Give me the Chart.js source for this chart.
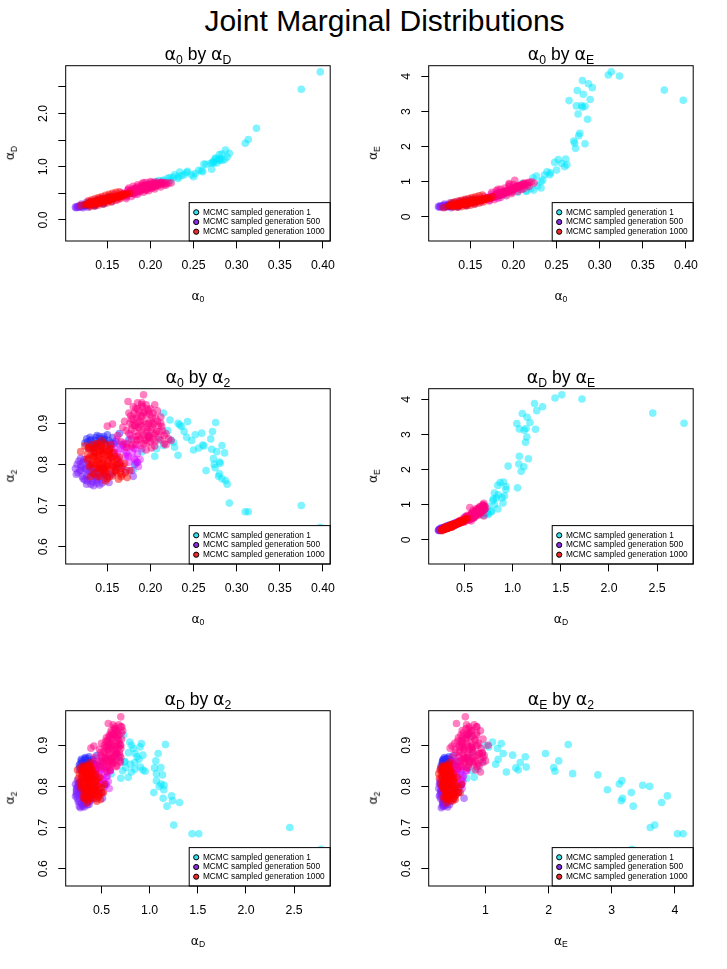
<!DOCTYPE html>
<html>
<head>
<meta charset="utf-8">
<script src="https://cdn.jsdelivr.net/npm/chart.js@4.4.1/dist/chart.umd.min.js"></script>
<style>
body { margin: 0; background: #fff; font-family: "Liberation Sans", Arial, sans-serif; }
#page { position: relative; width: 727px; height: 969px; overflow: hidden; }
canvas { position: absolute; }
.t { position: absolute; transform: translate(-50%, -50%); white-space: nowrap; color: #000; line-height: 1; }
.g { font-family: "DejaVu Sans"; }
sub { font-size: 0.7em; vertical-align: baseline; position: relative; top: 0.3em; }
</style>
</head>
<body>
<div id="page"></div>
<script>
// samples: [alpha0, alphaD, alphaE, alpha2]
const gen1 = [
  [0.397,2.78,3.32,0.647],[0.375,2.455,3.61,0.700],[0.323,1.72,4.01,0.639],[0.3135,1.51,4.13,0.685],
  [0.310,1.44,4.04,0.685],[0.2915,1.25,3.68,0.706],[0.280,1.227,3.88,0.777],[0.287,1.31,3.79,0.761],
  [0.274,1.10,3.60,0.800],[0.281,1.15,3.49,0.803],[0.2645,1.043,3.31,0.785],[0.289,1.18,3.34,0.752],
  [0.273,1.07,3.16,0.814],[0.283,1.237,3.15,0.765],[0.279,1.14,3.17,0.771],[0.275,1.147,2.93,0.792],
  [0.286,1.133,2.78,0.828],[0.277,1.07,2.38,0.831],[0.2757,1.164,2.31,0.902],[0.270,1.064,2.16,0.862],
  [0.283,1.116,2.08,0.846],[0.272,1.088,1.95,0.880],[0.271,0.953,2.10,0.837],[0.280,1.12,3.12,0.806],
  [0.2606,0.905,1.645,0.847],[0.252,0.87,1.63,0.872],[0.2478,0.846,1.55,0.858],[0.256,0.93,1.52,0.840],
  [0.2594,0.93,1.43,0.876],[0.250,0.81,1.33,0.835],[0.243,0.915,1.25,0.904],[0.239,0.85,1.28,0.880],
  [0.242,0.89,1.20,0.866],[0.236,0.83,1.19,0.892],[0.2227,0.794,1.11,0.908],[0.2266,0.80,1.16,0.854],
  [0.232,0.81,1.00,0.900],[0.228,0.846,0.88,0.842],[0.232,0.777,0.82,0.822],[0.2235,0.742,0.76,0.860],
  [0.215,0.73,0.75,0.925],[0.205,0.70,0.70,0.820],[0.207,0.72,0.78,0.838],[0.215,0.75,0.72,0.846],
  [0.220,0.78,0.80,0.882],[0.180,0.50,0.58,0.786],[0.190,0.60,0.62,0.830],[0.210,0.74,0.95,0.860],
  [0.198,0.68,0.72,0.870],[0.262,1.05,1.48,0.845],[0.234,0.90,1.05,0.896]
];
const gen500 = [
  [0.113,0.24,0.29,0.790],[0.114,0.23,0.27,0.776],[0.115,0.25,0.31,0.800],[0.117,0.26,0.28,0.808],
  [0.118,0.24,0.30,0.785],[0.120,0.27,0.33,0.795],[0.121,0.25,0.29,0.770],[0.123,0.28,0.31,0.812],
  [0.124,0.26,0.34,0.762],[0.125,0.29,0.30,0.788],[0.126,0.27,0.32,0.752],[0.128,0.30,0.35,0.775],
  [0.129,0.28,0.31,0.800],[0.130,0.31,0.33,0.765],[0.132,0.29,0.36,0.782],[0.133,0.32,0.32,0.758],
  [0.135,0.30,0.35,0.790],[0.136,0.33,0.38,0.770],[0.138,0.31,0.34,0.755],[0.140,0.34,0.37,0.778],
  [0.141,0.32,0.40,0.750],[0.143,0.35,0.36,0.792],[0.145,0.37,0.39,0.763],[0.147,0.34,0.42,0.783],
  [0.149,0.38,0.40,0.772],[0.152,0.37,0.43,0.756],[0.156,0.40,0.45,0.780],[0.160,0.41,0.47,0.792],
  [0.165,0.44,0.50,0.798],[0.172,0.47,0.55,0.785],[0.180,0.51,0.66,0.771],[0.185,0.54,0.62,0.805],
  [0.122,0.23,0.27,0.805],[0.134,0.28,0.30,0.748],
  [0.116,0.24,0.30,0.780],[0.119,0.26,0.31,0.800],[0.122,0.27,0.32,0.765],[0.124,0.28,0.30,0.790],
  [0.127,0.29,0.33,0.760],[0.129,0.30,0.32,0.784],[0.131,0.30,0.34,0.752],[0.134,0.31,0.33,0.775],
  [0.137,0.32,0.36,0.762],[0.139,0.33,0.35,0.785],[0.142,0.34,0.38,0.768],[0.144,0.35,0.37,0.755],
  [0.146,0.36,0.40,0.775],[0.119,0.25,0.28,0.815],[0.127,0.27,0.30,0.808],
  [0.120,0.30,0.36,0.785],[0.126,0.33,0.39,0.772],[0.132,0.35,0.41,0.790],[0.138,0.38,0.45,0.765],
  [0.144,0.40,0.48,0.780],[0.150,0.42,0.50,0.770],[0.128,0.24,0.26,0.795],[0.136,0.26,0.28,0.780],
  [0.146,0.30,0.32,0.792],[0.155,0.34,0.37,0.775]
];
const genBlue = [
  [0.124,0.27,0.30,0.852],[0.126,0.29,0.32,0.862],[0.128,0.28,0.31,0.840],[0.130,0.29,0.33,0.866],
  [0.132,0.31,0.34,0.848],[0.134,0.30,0.33,0.830],[0.136,0.32,0.36,0.858],[0.138,0.33,0.35,0.870],
  [0.140,0.32,0.37,0.845],[0.142,0.35,0.38,0.862],[0.144,0.34,0.37,0.835],[0.146,0.36,0.40,0.868],
  [0.148,0.37,0.39,0.850],[0.150,0.37,0.42,0.872],[0.153,0.39,0.41,0.842],[0.156,0.41,0.44,0.865],
  [0.160,0.42,0.46,0.855],[0.164,0.45,0.49,0.875],[0.168,0.46,0.51,0.848],[0.175,0.50,0.56,0.860],
  [0.182,0.53,0.60,0.800],
  [0.127,0.28,0.32,0.855],[0.131,0.30,0.32,0.860],[0.133,0.31,0.35,0.840],[0.137,0.33,0.34,0.865],
  [0.139,0.34,0.36,0.852],[0.141,0.33,0.38,0.868],[0.143,0.35,0.37,0.855],[0.147,0.36,0.39,0.860],
  [0.152,0.38,0.43,0.858],[0.158,0.41,0.45,0.850],
  [0.130,0.34,0.39,0.858],[0.138,0.37,0.42,0.848],[0.146,0.40,0.46,0.862],[0.154,0.44,0.50,0.852],
  [0.135,0.27,0.29,0.845],[0.145,0.31,0.33,0.858]
];
const genMagenta = [
  [0.150,0.39,0.42,0.832],[0.152,0.38,0.44,0.808],[0.155,0.41,0.43,0.848],[0.157,0.40,0.46,0.795],
  [0.159,0.43,0.45,0.825],[0.161,0.42,0.48,0.860],[0.163,0.45,0.47,0.812],[0.165,0.44,0.51,0.838],
  [0.167,0.47,0.50,0.790],[0.169,0.46,0.53,0.852],[0.171,0.49,0.52,0.820],[0.173,0.48,0.56,0.842],
  [0.175,0.51,0.55,0.805],[0.177,0.50,0.58,0.870],[0.179,0.53,0.60,0.830],[0.181,0.52,0.62,0.815],
  [0.183,0.55,0.61,0.848],[0.185,0.56,0.65,0.826],[0.188,0.57,0.64,0.812],[0.190,0.59,0.69,0.838],
  [0.178,0.51,0.57,0.785],[0.186,0.58,0.63,0.795],
  [0.154,0.40,0.44,0.818],[0.158,0.42,0.46,0.840],[0.162,0.44,0.49,0.828],[0.166,0.46,0.50,0.805],
  [0.170,0.48,0.54,0.835],[0.174,0.50,0.56,0.818],[0.180,0.54,0.61,0.840],[0.184,0.55,0.62,0.805],
  [0.158,0.47,0.53,0.830],[0.166,0.51,0.58,0.845],[0.174,0.55,0.64,0.822],[0.182,0.59,0.70,0.838],
  [0.162,0.38,0.42,0.815],[0.172,0.43,0.47,0.828],[0.182,0.48,0.53,0.812]
];
const genPink = [
  [0.162,0.43,0.47,0.870],[0.150,0.39,0.44,0.893],[0.156,0.42,0.47,0.898],[0.166,0.43,0.49,0.855],
  [0.168,0.48,0.52,0.890],[0.170,0.50,0.51,0.905],[0.172,0.45,0.55,0.842],[0.174,0.57,0.54,0.953],
  [0.175,0.50,0.58,0.875],[0.177,0.55,0.57,0.918],[0.178,0.50,0.60,0.862],[0.179,0.54,0.59,0.895],
  [0.180,0.49,0.62,0.848],[0.181,0.58,0.61,0.925],[0.182,0.535,0.64,0.880],[0.183,0.60,0.63,0.936],
  [0.184,0.52,0.66,0.858],[0.185,0.57,0.62,0.902],[0.186,0.545,0.67,0.870],[0.187,0.57,0.66,0.888],
  [0.188,0.53,0.70,0.845],[0.189,0.605,0.68,0.915],[0.190,0.575,0.72,0.878],[0.191,0.64,0.69,0.940],
  [0.192,0.70,0.68,0.969],[0.193,0.57,0.74,0.862],[0.194,0.61,0.71,0.898],[0.195,0.64,0.76,0.920],
  [0.196,0.58,0.73,0.852],[0.197,0.615,0.78,0.885],[0.198,0.665,0.75,0.930],[0.199,0.61,0.80,0.868],
  [0.200,0.65,0.77,0.906],[0.201,0.59,0.84,0.840],[0.202,0.643,0.79,0.890],[0.203,0.68,0.86,0.925],
  [0.204,0.633,0.82,0.872],[0.205,0.62,0.88,0.855],[0.206,0.68,0.84,0.912],[0.207,0.653,0.90,0.880],
  [0.208,0.707,0.86,0.930],[0.210,0.65,0.92,0.865],[0.212,0.693,0.88,0.900],[0.214,0.686,0.95,0.882],
  [0.216,0.66,0.90,0.850],[0.218,0.69,0.98,0.875],[0.221,0.69,1.00,0.862],[0.224,0.695,0.96,0.858],
  [0.2015,0.70,1.04,0.900],[0.195,0.555,0.92,0.835],[0.185,0.62,0.70,0.950],[0.190,0.64,0.74,0.945],
  [0.205,0.71,0.86,0.945],[0.178,0.545,0.56,0.910],[0.172,0.49,0.53,0.882],[0.188,0.59,0.64,0.905],
  [0.198,0.605,0.70,0.870],[0.209,0.676,0.78,0.895],[0.212,0.708,0.96,0.915],
  [0.176,0.53,0.58,0.900],[0.178,0.52,0.59,0.885],[0.180,0.56,0.61,0.910],[0.182,0.55,0.62,0.895],
  [0.183,0.53,0.65,0.868],[0.185,0.58,0.64,0.920],[0.186,0.56,0.66,0.890],[0.187,0.60,0.65,0.930],
  [0.188,0.55,0.68,0.862],[0.189,0.58,0.67,0.895],[0.190,0.61,0.70,0.918],[0.191,0.57,0.72,0.872],
  [0.192,0.60,0.70,0.905],[0.193,0.63,0.73,0.928],[0.194,0.58,0.75,0.858],[0.195,0.62,0.74,0.890],
  [0.196,0.65,0.77,0.935],[0.197,0.60,0.76,0.868],[0.198,0.63,0.78,0.900],[0.199,0.66,0.79,0.922],
  [0.200,0.61,0.81,0.855],[0.201,0.64,0.80,0.885],[0.202,0.67,0.83,0.915],[0.203,0.62,0.84,0.862],
  [0.204,0.66,0.85,0.898],[0.206,0.64,0.87,0.875],[0.208,0.68,0.89,0.905],[0.210,0.66,0.90,0.880],
  [0.213,0.70,0.93,0.892],[0.216,0.70,0.96,0.870],[0.184,0.57,0.63,0.912],[0.192,0.62,0.71,0.925],
  [0.175,0.60,0.70,0.925],[0.180,0.63,0.74,0.940],[0.185,0.66,0.78,0.935],[0.190,0.68,0.82,0.950],
  [0.195,0.70,0.86,0.945],[0.200,0.72,0.92,0.935],[0.172,0.40,0.45,0.850],[0.178,0.44,0.49,0.845],
  [0.185,0.48,0.55,0.860],[0.192,0.52,0.60,0.850],[0.198,0.55,0.66,0.865],[0.205,0.58,0.72,0.845],
  [0.212,0.62,0.80,0.860],[0.218,0.65,0.86,0.848],[0.182,0.58,0.78,0.895],[0.195,0.66,0.95,0.880]
];
const gen1000 = [
  [0.119,0.27,0.26,0.831],[0.124,0.29,0.30,0.845],[0.126,0.28,0.33,0.812],[0.128,0.31,0.32,0.838],
  [0.129,0.29,0.35,0.795],[0.131,0.30,0.31,0.822],[0.132,0.33,0.34,0.848],[0.133,0.31,0.36,0.780],
  [0.134,0.32,0.33,0.805],[0.135,0.34,0.35,0.830],[0.136,0.31,0.37,0.815],[0.137,0.33,0.34,0.792],
  [0.138,0.35,0.36,0.842],[0.139,0.32,0.38,0.770],[0.140,0.34,0.35,0.818],[0.141,0.36,0.39,0.800],
  [0.142,0.33,0.37,0.833],[0.143,0.35,0.40,0.785],[0.144,0.37,0.36,0.826],[0.145,0.34,0.39,0.810],
  [0.146,0.38,0.41,0.778],[0.147,0.36,0.38,0.840],[0.148,0.37,0.42,0.797],[0.149,0.39,0.40,0.823],
  [0.150,0.36,0.43,0.765],[0.151,0.38,0.41,0.808],[0.152,0.40,0.44,0.835],[0.153,0.39,0.42,0.788],
  [0.155,0.41,0.46,0.815],[0.156,0.40,0.43,0.772],[0.157,0.42,0.45,0.829],[0.158,0.43,0.48,0.795],
  [0.160,0.42,0.46,0.780],[0.161,0.44,0.49,0.812],[0.163,0.45,0.47,0.764],[0.165,0.44,0.51,0.790],
  [0.167,0.47,0.50,0.775],[0.170,0.46,0.54,0.802],[0.173,0.49,0.52,0.768],[0.176,0.50,0.57,0.785],
  [0.130,0.32,0.34,0.770],[0.137,0.30,0.32,0.850],[0.143,0.38,0.43,0.858],[0.148,0.35,0.38,0.760],
  [0.154,0.38,0.40,0.848],
  [0.127,0.30,0.31,0.825],[0.129,0.31,0.33,0.842],[0.131,0.29,0.32,0.800],[0.133,0.33,0.35,0.818],
  [0.135,0.32,0.34,0.776],[0.136,0.34,0.36,0.835],[0.138,0.32,0.33,0.808],[0.139,0.35,0.37,0.850],
  [0.140,0.33,0.38,0.790],[0.141,0.34,0.36,0.826],[0.142,0.36,0.38,0.772],[0.143,0.34,0.37,0.845],
  [0.144,0.35,0.39,0.803],[0.145,0.37,0.40,0.830],[0.146,0.35,0.38,0.795],[0.147,0.38,0.40,0.815],
  [0.148,0.36,0.41,0.782],[0.149,0.37,0.39,0.846],[0.150,0.39,0.42,0.800],[0.151,0.37,0.44,0.825],
  [0.152,0.39,0.41,0.770],[0.154,0.40,0.45,0.838],[0.156,0.42,0.44,0.805],[0.158,0.41,0.46,0.820],
  [0.159,0.44,0.47,0.784],[0.162,0.43,0.48,0.800],[0.164,0.46,0.50,0.818],[0.166,0.45,0.49,0.770],
  [0.168,0.48,0.52,0.795],[0.171,0.48,0.53,0.780],[0.134,0.31,0.35,0.838],[0.137,0.35,0.35,0.800],
  [0.139,0.33,0.36,0.822],[0.144,0.36,0.38,0.788],[0.146,0.37,0.41,0.852],[0.150,0.38,0.40,0.790],
  [0.128,0.36,0.40,0.815],[0.132,0.38,0.42,0.800],[0.136,0.40,0.45,0.828],[0.140,0.42,0.47,0.790],
  [0.144,0.44,0.50,0.812],[0.148,0.46,0.52,0.778],[0.152,0.48,0.55,0.822],[0.156,0.50,0.57,0.798],
  [0.160,0.52,0.60,0.785],[0.164,0.53,0.62,0.805],[0.135,0.26,0.27,0.820],[0.140,0.28,0.29,0.805],
  [0.145,0.30,0.31,0.835],[0.150,0.32,0.33,0.795],[0.155,0.34,0.36,0.815],[0.160,0.37,0.39,0.800],
  [0.165,0.40,0.42,0.780],[0.142,0.40,0.44,0.842],[0.152,0.44,0.49,0.830],[0.130,0.25,0.28,0.840]
];

const seriesList = [gen1, gen500, genBlue, genMagenta, genPink, gen1000];
const seriesColors = ['rgba(0,232,255,0.5)', 'rgba(125,30,255,0.5)', 'rgba(40,40,255,0.5)',
  'rgba(225,0,255,0.45)', 'rgba(255,0,130,0.5)', 'rgba(255,0,0,0.5)'];

const legendLabels = ['MCMC sampled generation 1', 'MCMC sampled generation 500', 'MCMC sampled generation 1000'];
const legendColors = ['#30e0ea', '#8a2be2', '#f02828'];

const alpha0Ticks = [0.15, 0.20, 0.25, 0.30, 0.35, 0.40];
const alpha0Labels = ['0.15', '0.20', '0.25', '0.30', '0.35', '0.40'];
const alphaDYTicks = [0, 0.5, 1, 1.5, 2, 2.5];
const alphaDYLabels = ['0.0', '', '1.0', '', '2.0', ''];
const alphaDXTicks = [0.5, 1, 1.5, 2, 2.5];
const alphaDXLabels = ['0.5', '1.0', '1.5', '2.0', '2.5'];
const alphaEYTicks = [0, 1, 2, 3, 4];
const alphaEYLabels = ['0', '1', '2', '3', '4'];
const alphaEXTicks = [1, 2, 3, 4];
const alphaEXLabels = ['1', '2', '3', '4'];
const alpha2Ticks = [0.6, 0.7, 0.8, 0.9];
const alpha2Labels = ['0.6', '0.7', '0.8', '0.9'];

const A = '<span class="g">α</span>';
const names = [A + '<sub>0</sub>', A + '<sub>D</sub>', A + '<sub>E</sub>', A + '<sub>2</sub>'];

const axes = {
  a0:  { col: 0, min: 0.1017, max: 0.4085, ticks: alpha0Ticks, labels: alpha0Labels },
  aDy: { col: 1, min: -0.396, max: 2.896, ticks: alphaDYTicks, labels: alphaDYLabels, pad: 6.4 },
  aDx: { col: 1, min: 0.128, max: 2.875, ticks: alphaDXTicks, labels: alphaDXLabels },
  aEy: { col: 2, min: -0.69, max: 4.305, ticks: alphaEYTicks, labels: alphaEYLabels, pad: 11.6 },
  aEx: { col: 2, min: 0.10, max: 4.29, ticks: alphaEXTicks, labels: alphaEXLabels },
  a2y: { col: 3, min: 0.558, max: 0.984, ticks: alpha2Ticks, labels: alpha2Labels, pad: 6.4 }
};

const panels = [
  { c: 0, r: 0, x: 'a0', y: 'aDy' },
  { c: 1, r: 0, x: 'a0', y: 'aEy' },
  { c: 0, r: 1, x: 'a0', y: 'a2y' },
  { c: 1, r: 1, x: 'aDx', y: 'aEy' },
  { c: 0, r: 2, x: 'aDx', y: 'a2y' },
  { c: 1, r: 2, x: 'aEx', y: 'a2y' }
];

const page = document.getElementById('page');
const cellX = [0, 363], cellY = [0, 323, 645];
const W = 363, H = 323;
const L = 65.7, T = 65.7, R = 330.2, B = 241;

function addText(html, x, y, size, rotate) {
  const d = document.createElement('div');
  d.className = 't';
  d.style.left = x + 'px';
  d.style.top = y + 'px';
  d.style.fontSize = size + 'px';
  if (rotate) d.style.transform = 'translate(-50%,-50%) rotate(-90deg)';
  d.innerHTML = html;
  page.appendChild(d);
}

function axisOpts(ax, horizontal) {
  return {
    type: 'linear',
    min: ax.min,
    max: ax.max,
    afterBuildTicks: s => { s.ticks = ax.ticks.map(v => ({ value: v })); },
    afterFit: s => { if (horizontal) s.height = 30; else s.width = 40; },
    grid: { drawOnChartArea: false, drawTicks: true, tickLength: 7.4, color: '#000', lineWidth: 1 },
    border: { display: false },
    ticks: {
      autoSkip: false,
      color: '#000',
      font: { family: 'Liberation Sans', size: 12.3 },
      padding: horizontal ? 10.3 : ax.pad,
      minRotation: horizontal ? 0 : 90,
      maxRotation: horizontal ? 0 : 90,
      crossAlign: horizontal ? 'near' : 'center',
      callback: (v, i) => ax.labels[i]
    }
  };
}

const framePlugin = {
  id: 'frame',
  afterDatasetsDraw(chart) {
    const { ctx, chartArea: a } = chart;
    const w = 141, h = 38.4;
    const lx = a.right - w, ly = a.bottom - h;
    ctx.save();
    ctx.fillStyle = '#fff';
    ctx.fillRect(lx, ly, w, h);
    ctx.strokeStyle = '#000';
    ctx.lineWidth = 1;
    ctx.strokeRect(lx, ly, w, h);
    ctx.font = '8.3px "Liberation Sans"';
    ctx.textBaseline = 'middle';
    legendLabels.forEach((t, i) => {
      const y = ly + 9.7 + i * 9.7;
      ctx.beginPath();
      ctx.arc(lx + 7, y, 2.6, 0, 2 * Math.PI);
      ctx.fillStyle = legendColors[i];
      ctx.fill();
      ctx.stroke();
      ctx.fillStyle = '#000';
      ctx.fillText(t, lx + 13.7, y);
    });
    ctx.strokeRect(a.left, a.top, a.right - a.left, a.bottom - a.top);
    ctx.restore();
  }
};

addText('Joint Marginal Distributions', 384.5, 21.3, 30);

panels.forEach(p => {
  const ox = cellX[p.c], oy = cellY[p.r];
  const xa = axes[p.x], ya = axes[p.y];
  const cv = document.createElement('canvas');
  cv.width = W; cv.height = H;
  cv.style.left = ox + 'px';
  cv.style.top = oy + 'px';
  page.appendChild(cv);

  new Chart(cv.getContext('2d'), {
    type: 'scatter',
    data: {
      // later generations are drawn on top (lower order = drawn last)
      datasets: seriesList.map((s, i) => ({
        data: s.map(v => ({ x: v[xa.col], y: v[ya.col] })),
        backgroundColor: seriesColors[i],
        borderWidth: 0,
        pointRadius: 3.8,
        pointHoverRadius: 3.8,
        order: seriesList.length - i
      }))
    },
    options: {
      responsive: false,
      animation: false,
      devicePixelRatio: 1,
      layout: { padding: { left: L - 40, top: T, right: W - R, bottom: H - B - 30 } },
      plugins: { legend: { display: false }, tooltip: { enabled: false } },
      scales: { x: axisOpts(xa, true), y: axisOpts(ya, false) }
    },
    plugins: [framePlugin]
  });

  const cx = ox + (L + R) / 2;
  addText(names[xa.col] + ' by ' + names[ya.col], cx, oy + T - 10.5, 17.5);
  addText(names[xa.col], cx, oy + B + 54.5, 12.3);
  addText(names[ya.col], ox + 10, oy + (T + B) / 2, 12.3, true);
});
</script>
</body>
</html>
